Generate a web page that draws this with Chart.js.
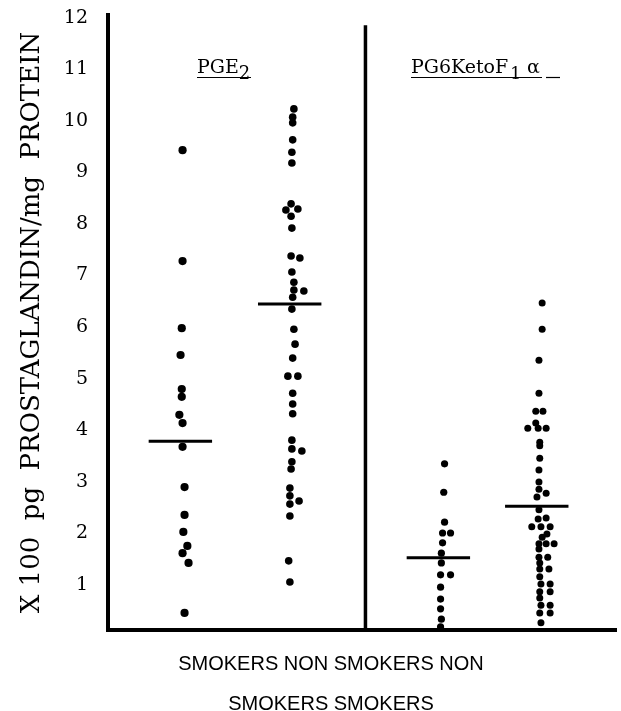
<!DOCTYPE html>
<html><head><meta charset="utf-8">
<script src="https://cdn.jsdelivr.net/npm/chart.js@4"></script>
<style>html,body{margin:0;padding:0;background:#fff}</style>
</head><body>
<canvas id="c" width="621" height="711"></canvas>
<script>
// ---- data ----
const yTicks = [1,2,3,4,5,6,7,8,9,10,11,12];
const groupLabels = ['SMOKERS PGE2','NON SMOKERS PGE2','SMOKERS PG6KetoF1α','NON SMOKERS PG6KetoF1α'];
const groupX = [1, 2, 3.36, 4.26];           // x position of each column (x-axis units)
const dividerX = 2.673;

const smokersPGE2 = [9.43,7.28,5.98,5.46,4.80,4.65,4.30,4.14,3.68,2.90,2.36,2.03,1.76,1.62,1.43,0.46];
const smokersPGE2Side = [0,0,-.1,-.25,-.1,-.1,-.4,0,0,.25,.25,.1,.6,0,.75,.25];

const nonSmokersPGE2 = [10.23,10.07,9.96,9.63,9.39,9.18,8.39,8.27,8.29,8.15,7.92,7.38,7.34,7.07,6.87,6.72,6.70,6.58,6.35,5.96,5.67,5.40,5.05,5.05,4.72,4.51,4.32,3.81,3.64,3.60,3.39,3.25,2.88,2.73,2.63,2.57,2.34,1.47,1.06];
const nonSmokersPGE2Side = [.25,.1,.1,.1,0,0,-.1,-.75,.75,-.1,0,-.1,1,0,.25,.25,1.5,.1,0,.25,.4,.1,-.5,.75,.1,.1,.1,0,0,1.25,0,-.1,-.25,-.25,.9,-.25,-.25,-.4,-.25];

const smokersPGK = [3.35,2.80,2.22,2.01,2.01,1.82,1.62,1.43,1.20,1.20,0.96,0.73,0.54,0.34,0.19];
const smokersPGKSide = [.5,.4,.5,.25,1.25,.25,.1,.1,0,1.25,0,0,0,.1,0];

const nonSmokersPGK = [6.47,5.96,5.36,4.72,4.37,4.37,4.14,4.04,4.04,4.04,3.77,3.70,3.46,3.23,3.00,2.86,2.78,2.71,2.46,2.28,2.30,2.13,2.13,2.13,1.99,1.93,1.80,1.80,1.80,1.70,1.54,1.54,1.43,1.31,1.31,1.16,1.02,1.02,0.87,0.87,0.75,0.61,0.61,0.46,0.46,0.27];
const nonSmokersPGKSide = [.4,.4,0,0,-.4,.5,-.4,-1.4,-.1,.9,.1,.1,.1,0,0,0,.9,-.25,0,-.1,.9,-.9,.25,1.4,1,.4,0,.9,1.9,0,0,1.1,.1,.1,1.25,.1,.25,1.4,.1,1.4,.1,.25,1.4,.1,1.4,.25];

const means = [3.79, 6.45, 1.53, 2.53];

// ---- build datasets ----
const DOT = 0.073; // one dot width in x-axis units
function pts(vals, side, gx) { return vals.map((v,i)=>({x: gx + side[i]*DOT, y: v})); }
const groups = [
  [smokersPGE2, smokersPGE2Side, 4.1],
  [nonSmokersPGE2, nonSmokersPGE2Side, 3.8],
  [smokersPGK, smokersPGKSide, 3.6],
  [nonSmokersPGK, nonSmokersPGKSide, 3.5]
];
const datasets = [];
groups.forEach((g,i)=>{
  datasets.push({label: groupLabels[i], data: pts(g[0], g[1], groupX[i]),
    pointRadius: g[2], pointBackgroundColor:'#000', pointBorderWidth:0, showLine:false});
});
means.forEach((m,i)=>{
  datasets.push({label: 'mean '+groupLabels[i], type:'line',
    data:[{x: groupX[i]-0.31, y:m},{x: groupX[i]+0.27, y:m}],
    borderColor:'#000', borderWidth:3, pointRadius:0, showLine:true});
});
datasets.push({label:'divider', type:'line', data:[{x:dividerX,y:0.13},{x:dividerX,y:11.85}],
  borderColor:'#000', borderWidth:3.5, pointRadius:0, showLine:true});

const textPlugin = {
  id:'texts',
  afterDraw(chart){
    const ctx = chart.ctx;
    ctx.save();
    ctx.fillStyle = '#000'; ctx.strokeStyle = '#000';
    function header(parts, x0, base, ulEnd){
      let x = x0;
      parts.forEach(p=>{
        ctx.font = p.size + 'px "DejaVu Serif"';
        ctx.textBaseline = 'alphabetic'; ctx.textAlign='left';
        ctx.fillText(p.t, x, base + p.dy);
        x += ctx.measureText(p.t).width + (p.gap||0);
      });
      ctx.lineWidth = 1;
      ctx.beginPath(); ctx.moveTo(x0, base+4.5); ctx.lineTo(ulEnd, base+4.5); ctx.stroke();
    }
    header([{t:'PGE',size:19,dy:0},{t:'2',size:18,dy:6}], 197, 73, 251);
    header([{t:'PG6KetoF',size:19,dy:0,gap:2},{t:'1',size:17,dy:6,gap:6},{t:'α',size:19,dy:0}], 411, 73, 542);
    ctx.lineWidth = 1.2;
    ctx.beginPath(); ctx.moveTo(546, 77.5); ctx.lineTo(560, 77.5); ctx.stroke();

    ctx.font = '20px "Liberation Sans"';
    ctx.textAlign = 'center';
    ctx.fillText('SMOKERS NON SMOKERS NON', 331, 670);
    ctx.fillText('SMOKERS SMOKERS', 331, 710);
    ctx.restore();
  }
};

new Chart(document.getElementById('c'), {
  type:'scatter',
  data:{datasets},
  options:{
    responsive:false, animation:false, devicePixelRatio:1,
    layout:{padding:{top:15, right:1, left:0, bottom:0}},
    plugins:{legend:{display:false}, tooltip:{enabled:false}},
    scales:{
      x:{type:'linear', min:0.318, max:4.973,
        grid:{display:false, drawTicks:false},
        ticks:{display:false},
        border:{display:true, color:'#000', width:4},
        afterFit(s){ s.height = 81; s.paddingLeft = 0; s.paddingRight = 0; }
      },
      y:{type:'linear', min:0.13, max:12.05,
        grid:{display:false, drawTicks:false},
        border:{display:true, color:'#000', width:4},
        afterBuildTicks(ax){ ax.ticks = yTicks.map(v=>({value:v})); },
        ticks:{color:'#000', padding:20, font:{family:'DejaVu Serif', size:19}},
        title:{display:true, text:'X 100  pg  PROSTAGLANDIN/mg  PROTEIN', color:'#000',
          font:{family:'DejaVu Serif', size:26}, padding:{top:17, bottom:0}},
        afterFit(s){ s.width = 108; s.paddingTop = 0; s.paddingBottom = 0; }
      }
    }
  },
  plugins:[textPlugin]
});
</script>
</body></html>
